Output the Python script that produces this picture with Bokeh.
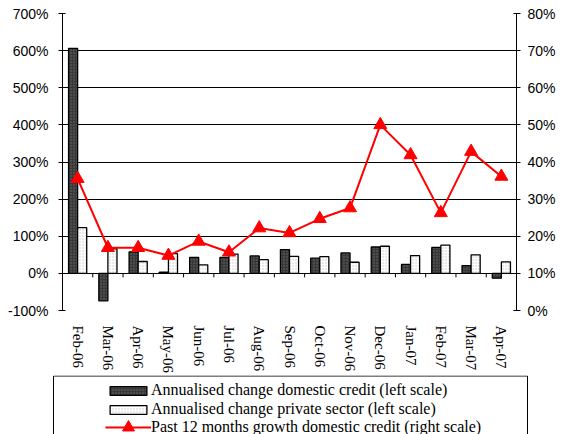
from bokeh.plotting import figure
from bokeh.models import (ColumnDataSource, Range1d, LinearAxis, SingleIntervalTicker,
                          PrintfTickFormatter, Legend, LegendItem, FactorRange)
from bokeh.layouts import column
from bokeh.transform import dodge
from bokeh.embed import file_html
from bokeh.resources import INLINE

months = ["Feb-06", "Mar-06", "Apr-06", "May-06", "Jun-06", "Jul-06", "Aug-06", "Sep-06",
          "Oct-06", "Nov-06", "Dec-06", "Jan-07", "Feb-07", "Mar-07", "Apr-07"]
domestic_credit = [606, -74, 58, 3, 43, 43, 47, 64, 41, 55, 71, 24, 70, 21, -13]
private_sector = [123, 66, 32, 53, 23, 52, 37, 46, 45, 30, 73, 48, 76, 50, 31]
growth_12m = [35.5, 16.9, 16.9, 14.8, 18.6, 15.7, 22.2, 20.9, 24.7, 27.6, 50.0, 41.9, 26.3, 42.8, 36.1]

labels = ["Annualised change domestic credit (left scale)",
          "Annualised change private sector (left scale)",
          "Past 12 months growth domestic credit (right scale)"]

W = 563
H_CHART = 375
H_LEG = 59

src = ColumnDataSource(dict(m=months, dc=domestic_credit, ps=private_sector, g=growth_12m,
                            zero=[0] * len(months), tick=[-10.8] * len(months)))

p = figure(width=W, height=H_CHART, x_range=FactorRange(*months), y_range=Range1d(-100, 700),
           output_backend="svg", toolbar_location=None,
           min_border_left=62, min_border_right=47, min_border_top=13, min_border_bottom=64)
p.frame_align = False
p.outline_line_color = None
p.extra_y_ranges = {"right": Range1d(0, 80)}

lt = SingleIntervalTicker(interval=100)
p.yaxis.ticker = lt
p.ygrid.ticker = lt
p.ygrid.grid_line_color = "black"
p.ygrid.grid_line_width = 1
p.xgrid.visible = False

tick_font = "Liberation Sans"
ya = p.yaxis[0]
ya.formatter = PrintfTickFormatter(format="%d%%")
ra = LinearAxis(y_range_name="right", ticker=SingleIntervalTicker(interval=10),
                formatter=PrintfTickFormatter(format="%d%%"))
p.add_layout(ra, "right")
for ax, so in ((ya, 10), (ra, 7)):
    ax.major_label_text_font = tick_font
    ax.major_label_text_font_size = "14px"
    ax.major_label_text_color = "black"
    ax.major_tick_in = 3
    ax.major_tick_out = 4
    ax.minor_tick_line_color = None
    ax.major_label_standoff = so
    ax.axis_line_color = "black"
    ax.major_tick_line_color = "black"

xa = p.xaxis[0]
xa.axis_line_color = None
xa.major_tick_line_color = None
xa.major_label_orientation = "vertical"
xa.major_label_text_font = "Liberation Serif"
xa.major_label_text_font_size = "15px"
xa.major_label_text_color = "black"
xa.major_label_standoff = 9

# category separator ticks on the zero line
p.segment(x0=dodge("m", 0.5, range=p.x_range), x1=dodge("m", 0.5, range=p.x_range),
          y0="zero", y1="tick", source=src, line_color="black", line_width=1)

dark_style = dict(fill_color="#383838", line_color="black", line_width=1.3,
                  hatch_pattern=".", hatch_color="#6a6a6a", hatch_scale=3, hatch_weight=1)
light_style = dict(fill_color="white", line_color="black", line_width=1.3,
                   hatch_pattern=".", hatch_color="#c8c8c8", hatch_scale=3, hatch_weight=1)
line_style = dict(line_color="#ff0000", line_width=2)
mark_style = dict(marker="triangle", size=13, fill_color="#ff0000", line_color="#ff0000")

p.vbar(x=dodge("m", -0.15, range=p.x_range), top="dc", width=0.3, source=src, **dark_style)
p.vbar(x=dodge("m", 0.15, range=p.x_range), top="ps", width=0.3, source=src, **light_style)
p.line(x="m", y="g", source=src, y_range_name="right", **line_style)
p.scatter(x="m", y="g", source=src, y_range_name="right", **mark_style)

# legend panel (its frame is the whole canvas; the box is clipped at the bottom)
q = figure(width=W, height=H_LEG, x_range=Range1d(0, W), y_range=Range1d(0, H_LEG),
           output_backend="svg", toolbar_location=None,
           x_axis_location=None, y_axis_location=None,
           min_border_left=0, min_border_right=0, min_border_top=0, min_border_bottom=0)
q.frame_align = False
q.grid.visible = False
q.outline_line_color = None
box_left, box_right, box_top, box_bottom = 53, 527, H_LEG - 0.5, -20
q.quad(left=[box_left], right=[box_right], top=[box_top], bottom=[box_bottom],
       fill_alpha=0, line_color="black", line_width=1)
nan = float("nan")
off = dict(x=[nan], top=[nan], width=1)   # placeholder glyphs (not drawn), used by the legend only
r1 = q.vbar(**off, **dark_style)
r2 = q.vbar(**off, **light_style)
r3 = q.line(x=[nan, nan], y=[nan, nan], **line_style)
r4 = q.scatter(x=[nan], y=[nan], **mark_style)

common = dict(padding=3, spacing=1, label_height=18, glyph_width=46, label_standoff=0,
              border_line_color=None, background_fill_alpha=0,
              label_text_font="Liberation Serif", label_text_font_size="16px",
              label_text_color="black")
legend_a = Legend(items=[
    LegendItem(label=labels[0], renderers=[r1]),
    LegendItem(label=labels[1], renderers=[r2]),
], location=(105, 16), glyph_height=11, **common)
legend_b = Legend(items=[
    LegendItem(label=labels[2], renderers=[r3, r4]),
], location=(105, -8), glyph_height=30, **common)
q.add_layout(legend_a, "center")
q.add_layout(legend_b, "center")

layout = column(p, q, spacing=0)
open("out.html", "w").write(file_html(layout, INLINE))
